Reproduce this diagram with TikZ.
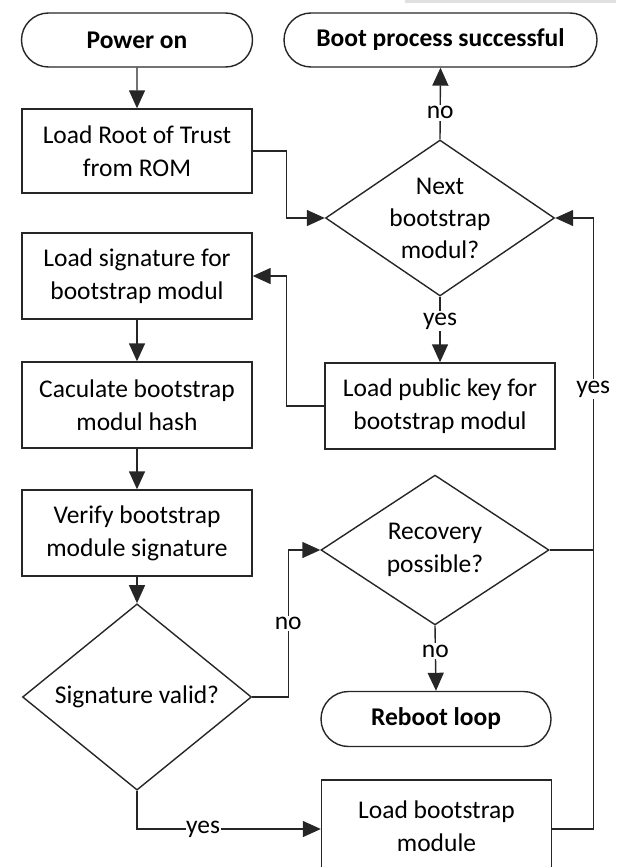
\documentclass[tikz,border=0pt]{standalone}
\usepackage{fontspec}
\setmainfont{Carlito}
\usetikzlibrary{shapes.geometric,shapes.misc,arrows.meta}
\begin{document}
\begin{tikzpicture}[x=1pt,y=-1pt,
  base/.style={draw=black!85, line width=1.4pt, align=center, inner sep=0pt,
    font=\fontsize{25.5}{33}\selectfont},
  term/.style={base, rounded rectangle, minimum width=231pt, minimum height=54pt,
    font=\fontsize{25.5}{33}\selectfont\bfseries},
  proc/.style={base, rectangle, minimum width=230pt, minimum height=86pt},
  dec/.style={base, diamond, minimum width=229pt, minimum height=150pt},
  txt/.style={align=center, inner sep=0pt, font=\fontsize{25.5}{32}\selectfont},
  conn/.style={draw=black!85, line width=1.4pt},
  arr/.style={conn, -{Triangle[length=18pt,width=16pt]}},
  lbl/.style={fill=white, inner sep=1.5pt, font=\fontsize{25.5}{33}\selectfont}
]
\useasboundingbox (0,0) rectangle (616,867);
\fill[black!12] (405,0) rectangle (616,3);

\node[term] (power) at (137,40) {Power on};
\node[term, minimum width=313pt] (boot) at (440.5,40) {Boot process successful};
\node[proc, minimum height=84pt] (root) at (137,151) {Load Root of Trust\\from ROM};
\node[dec, minimum height=156pt] (next) at (440,218) {};
\node[txt] (nexttext) at (next) {Next\\bootstrap\\modul?};
\node[proc] (sig) at (137,276) {Load signature for\\bootstrap modul};
\node[proc] (pub) at (440,406) {Load public key for\\bootstrap modul};
\node[proc] (calc) at (137,405) {Caculate bootstrap\\modul hash};
\node[proc] (verify) at (137,533) {Verify bootstrap\\module signature};
\node[dec, minimum width=228pt, minimum height=146pt] (rec) at (435,550) {Recovery\\possible?};
\node[dec, minimum height=146pt] (valid) at (137,697) {Signature valid?};
\node[term, minimum width=230pt, minimum height=55pt] (reboot) at (436,719) {Reboot loop};
\node[proc, minimum height=92pt] (load) at (436.5,826) {Load bootstrap\\module};

\draw[arr] (power) -- (root);
\draw[arr] (root.east) -- ++(34,0) |- (next.west);
\draw[arr] (next.north) -- node[lbl, pos=0.37] {no} (boot.south);
\draw[arr] (next.south) -- node[lbl, pos=0.37] {yes} (pub.north);
\draw[arr] (pub.west) -- ++(-38,0) |- (sig.east);
\draw[arr] (sig) -- (calc);
\draw[arr] (calc) -- (verify);
\draw[arr] (verify) -- (valid);
\draw[arr] (valid.east) -- ++(36,0) |- node[lbl, pos=0.25] {no} (rec.west);
\draw[arr] (rec.south) -- node[lbl, pos=0.39] {no} (reboot.north);
\draw[arr] (valid.south) |- ([yshift=-3pt]load.west) node[lbl, pos=0.68, inner sep=0.5pt] {yes};
\draw[arr] ([yshift=-3pt]load.east) -- ++(41,0) coordinate (jr) |- node[lbl, pos=0.36] {yes} (next.east);
\draw[conn] (rec.east) -- (rec.east -| jr);
\end{tikzpicture}
\end{document}
